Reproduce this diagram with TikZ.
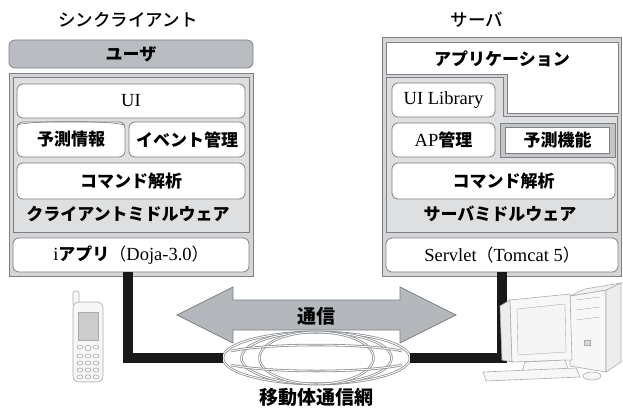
\documentclass[tikz,border=0pt]{standalone}
\usepackage{fontspec}
\setmainfont{Liberation Serif}
\newfontfamily\jp{Noto Sans CJK JP}
\newfontfamily\jpmed{Noto Sans CJK JP Medium}
\usetikzlibrary{positioning,shapes.geometric}

\definecolor{edgegray}{HTML}{7E8083}
\definecolor{usergray}{HTML}{B9BDC1}
\definecolor{framegray}{HTML}{D3D5D7}
\definecolor{midgray}{HTML}{DDDFE1}
\definecolor{arrowgray}{HTML}{B4B8BC}
\definecolor{netgray}{HTML}{8E9194}
\definecolor{devgray}{HTML}{A9ACAF}

\newcommand{\jb}{\jp\bfseries}
\newcommand{\latn}[1]{{\rmfamily\mdseries\fontsize{18.5}{20}\selectfont #1}}

\begin{document}
\begin{tikzpicture}[x=1pt,y=-1pt,
  title/.style={font=\jpmed\fontsize{17.5}{20}\selectfont},
  lbl/.style={font=\jb\fontsize{17}{20}\selectfont},
  frame/.style={rectangle,draw=edgegray,fill=framegray,line width=1pt,inner sep=0pt},
  mid/.style={rectangle,draw=edgegray,fill=midgray,line width=0.8pt,inner sep=0pt},
  layer/.style={rectangle,rounded corners=6pt,draw=edgegray,fill=white,line width=0.8pt,
    minimum height=34pt,inner sep=0pt,font=\jb\fontsize{17}{20}\selectfont},
  userbar/.style={layer,fill=usergray,minimum height=28pt},
  bevel/.style={rectangle,draw=edgegray,fill=devgray!70,line width=0.8pt,inner sep=0pt},
  inset/.style={rectangle,draw=edgegray,fill=white,line width=0.6pt,inner sep=0pt,
    minimum width=104pt,minimum height=26pt,font=\jb\fontsize{17}{20}\selectfont},
  cable/.style={line width=10pt,black!90},
  globe/.style={draw=netgray,double=white,double distance=0.9pt,line width=0.8pt},
  device/.style={draw=devgray,fill=gray!6,line width=0.6pt}
]
\useasboundingbox (0,0) rectangle (623,412);

% thin client
\node[title] (cltitle) at (128,20) {シンクライアント};
\node[userbar,minimum width=244pt] (user) at (131,54) {ユーザ};
\node[frame,minimum width=244pt,minimum height=203pt] (clframe) at (131,174.5) {};
\node[mid,minimum width=236pt,minimum height=155pt] (clmid) at (131,154.5) {};
\node[layer,minimum width=228pt] (clui) at (131,101) {\latn{UI}};
\node[layer,minimum width=108pt,minimum height=35pt] (clpred) at (71,139.5) {予測情報};
\draw[edgegray,line width=0.6pt] (clpred.north west) ++(0,4)
  arc[start angle=180,end angle=360,x radius=54,y radius=4];
\node[layer,minimum width=116pt,minimum height=35pt] (clevent) at (187,139.5) {イベント管理};
\node[layer,minimum width=228pt,minimum height=36pt] (clcmd) at (131,181) {コマンド解析};
\node[lbl] (clmw) at (128,214) {クライアントミドルウェア};
\node[layer,minimum width=236pt] (iappli) at (131,255)
  {\latn{i}アプリ{\mdseries（}\latn{Doja-3.0}{\mdseries）}};

% server
\node[title] (svtitle) at (477,20) {サーバ};
\node[frame,minimum width=239pt,minimum height=238pt] (svframe) at (501.5,157) {};
\draw[edgegray,fill=white,line width=0.8pt]
  (386,42) -- (618,42) -- (618,113) -- (507,113) -- (507,74) -- (386,74) -- cycle;
\draw[edgegray,fill=midgray,line width=0.8pt]
  (386,77) -- (503,77) -- (503,116) -- (617,116) -- (617,232) -- (386,232) -- cycle;
\node[lbl] (app) at (502,59) {アプリケーション};
\node[layer,minimum width=103pt] (uilib) at (443.5,100) {\latn{UI Library}};
\node[layer,minimum width=103pt] (apmgr) at (443.5,140) {\latn{AP}管理};
\node[bevel,minimum width=115pt,minimum height=34pt] (predbox) at (557.5,140) {};
\node[inset] (predfn) at (predbox) {予測機能};
\node[layer,minimum width=223pt,minimum height=36pt] (svcmd) at (503.5,181) {コマンド解析};
\node[lbl] (svmw) at (500,214) {サーバミドルウェア};
\node[layer,minimum width=232pt] (servlet) at (502,255)
  {\latn{Servlet}{\mdseries（}\latn{Tomcat 5}{\mdseries）}};

% communication arrow
\draw[draw=edgegray,fill=arrowgray,line width=0.8pt]
  (177,315) -- (233,287) -- (233,300) -- (400,300) -- (400,287) -- (456,315)
  -- (400,343) -- (400,330) -- (233,330) -- (233,343) -- cycle;
\node[lbl,font=\jb\fontsize{19}{21}\selectfont] (comm) at (316,316) {通信};

% mobile network
\node[ellipse,globe,fill=white,minimum width=187pt,minimum height=52pt,inner sep=0pt] (net) at (316.5,358) {};
\draw[globe] (net.center) ellipse [x radius=75,y radius=26];
\draw[globe] (net.center) ellipse [x radius=57,y radius=26];
\draw[globe] (231,351) .. controls (270,343) and (363,343) .. (402,351);
\draw[globe] (231,365) .. controls (270,373) and (363,373) .. (402,365);
\node[lbl,font=\jb\fontsize{19}{21}\selectfont] (netname) at (316,397) {移動体通信網};

\draw[cable] ([xshift=-3pt]iappli.south) |- (net.west);
\draw[cable] (servlet.south) |- (net.east);

% handset
\draw[device,rounded corners=2pt] (73,291) rectangle (79,306);
\draw[device,rounded corners=6pt] (73,302) rectangle (103,382);
\draw[devgray,fill=gray!40] (78,312) rectangle (98,340);
\draw[device] (88,348) circle (3);
\foreach \kx in {80,96} \draw[device] (\kx,347) ellipse (3 and 2);
\foreach \kx in {80,88,96}
  \foreach \ky in {356,363,370,377}
    \draw[device] (\kx,\ky) ellipse (3 and 2);

% desktop pc
\draw[device] (570,296) -- (606,290) -- (606,372) -- (570,366) -- cycle;
\draw[device,fill=gray!14] (606,290) -- (621,283) -- (621,362) -- (606,372) -- cycle;
\draw[device,fill=gray!10] (570,296) -- (585,289) -- (621,283) -- (606,290) -- cycle;
\foreach \dy in {300,310,320} \draw[devgray] (576,\dy) -- (600,\dy-3);
\draw[devgray,fill=gray!30] (584,340) rectangle (590,345);
\draw[device,fill=gray!14] (500,306) -- (510,300) -- (512,362) -- (502,360) -- cycle;
\draw[device] (510,300) -- (570,294) -- (572,360) -- (512,362) -- cycle;
\draw[devgray,fill=gray!8] (517,309) -- (565,304) -- (566,352) -- (518,355) -- cycle;
\draw[device] (525,362) -- (565,360) -- (568,369) -- (522,371) -- cycle;
\draw[device] (483,372) -- (576,368) -- (580,377) -- (486,381) -- cycle;
\draw[device] (592,376) ellipse (9 and 4);
\end{tikzpicture}
\end{document}
